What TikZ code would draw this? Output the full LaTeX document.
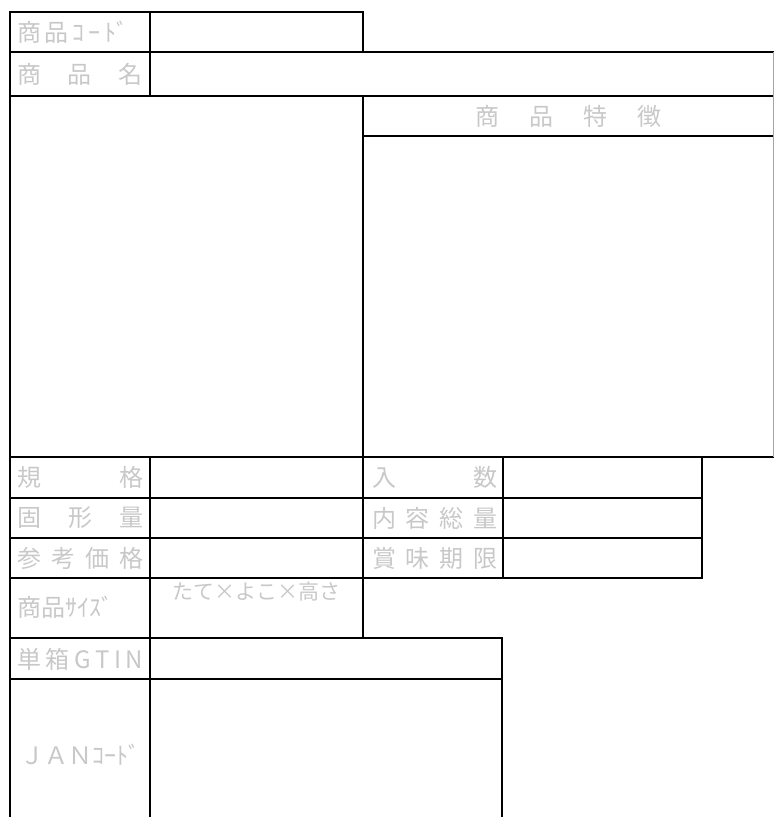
\documentclass[tikz,border=0pt]{standalone}
\usepackage{fontspec}
\setmainfont{Noto Sans CJK JP}
\definecolor{lbl}{RGB}{200,200,200}
\definecolor{edgegray}{RGB}{165,165,165}
\begin{document}
\begin{tikzpicture}[x=1pt,y=-1pt,
  rule/.style={line width=2.6pt, black, line cap=rect},
  thinrule/.style={line width=1pt, edgegray},
  lab/.style={text=lbl, font=\fontsize{24}{24}\selectfont, inner sep=0pt, anchor=west, align=left},
  spread/.style={lab, text width=#1},
  small/.style={text=lbl, font=\fontsize{21}{21}\selectfont, inner sep=0pt, anchor=west},
]
\useasboundingbox (0,0) rectangle (775,817);
% horizontal rules
\draw[rule] (10,12) -- (363,12);
\draw[rule] (10,52) -- (773,52);
\draw[rule] (10,96) -- (773,96);
\draw[rule] (363,136) -- (773,136);
\draw[rule] (10,457) -- (773,457);
\draw[rule] (10,498) -- (702,498);
\draw[rule] (10,538) -- (702,538);
\draw[rule] (10,578) -- (702,578);
\draw[rule] (10,638) -- (502,638);
\draw[rule] (10,679) -- (502,679);
% vertical rules
\draw[rule] (10,12) -- (10,830);
\draw[rule] (150,12) -- (150,96);
\draw[rule] (150,457) -- (150,830);
\draw[rule] (363,12) -- (363,52);
\draw[rule] (363,96) -- (363,638);
\draw[rule] (503,457) -- (503,578);
\draw[rule] (702,457) -- (702,578);
\draw[rule] (502,638) -- (502,830);
\draw[thinrule] (773.5,52) -- (773.5,457);
% labels
\node[spread=111pt] (code) at (17,32) {商\hfill 品\hfill ｺ\hfill ｰ\hfill ﾄﾞ};
\node[spread=125pt] (name) at (17,74) {商\hfill 品\hfill 名};
\node[text=lbl, font=\fontsize{24}{24}\selectfont, inner sep=0pt] (feat) at (568,116) {商\hspace{30pt}品\hspace{30pt}特\hspace{30pt}徴};
\node[spread=126pt] (kikaku) at (17,477.5) {規\hfill 格};
\node[spread=126pt] (kokei) at (17,518) {固\hfill 形\hfill 量};
\node[spread=126pt] (sanko) at (17,558) {参\hfill 考\hfill 価\hfill 格};
\node[spread=125pt] (iri) at (372,477.5) {入\hfill 数};
\node[spread=125pt] (naiyo) at (372,518) {内\hfill 容\hfill 総\hfill 量};
\node[spread=125pt] (shomi) at (372,558) {賞\hfill 味\hfill 期\hfill 限};
\node[lab] (size) at (17,607) {商品ｻｲｽﾞ};
\node[small] (dims) at (172,592) {たて×よこ×高さ};
\node[spread=126pt] (gtin) at (17,659) {単\hfill 箱\hfill G\hfill T\hfill I\hfill N};
\node[lab] (jan) at (20,755) {ＪＡＮｺｰﾄﾞ};
\end{tikzpicture}
\end{document}
